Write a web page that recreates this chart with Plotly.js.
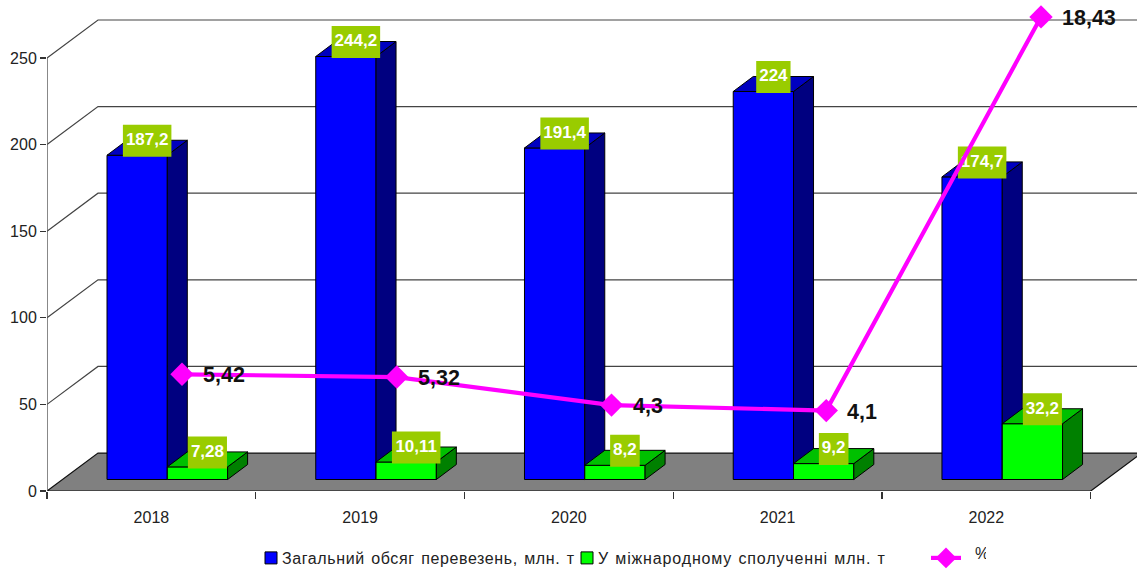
<!DOCTYPE html>
<html><head><meta charset="utf-8">
<script src="https://cdn.plot.ly/plotly-3.0.1.min.js"></script>
<style>html,body{margin:0;padding:0;background:#fff}#c{width:1137px;height:569px}
.legendtext{letter-spacing:.6px;word-spacing:1.5px;transform:translateX(-9px)}
.legend2text{letter-spacing:.85px;word-spacing:1px;transform:translateX(-9px)}
.legend3text{transform:translate(9px,-5px)}</style>
</head><body><div id="c"></div>
<script>
const years = [2018, 2019, 2020, 2021, 2022];
const totalValues = [187.2, 244.2, 191.4, 224, 174.7];
const intlValues = [7.28, 10.11, 8.2, 9.2, 32.2];
const pctValues = [5.42, 5.32, 4.3, 4.1, 18.43];
const yTicks = [0, 50, 100, 150, 200, 250];
const totalName = 'Загальний обсяг перевезень, млн. т';
const intlName = 'У міжнародному сполученні млн. т';
const pctName = '%';

// frame: pixels per unit of each axis
const W = 1137, H = 569, mL = 47, mB = 77.5;
const plotH = H - mB, plotW = W - mL;
const pxY = 1.734, pxX = 208.74;
const xRange = [2018 - 104.4 / pxX, 2018 - 104.4 / pxX + plotW / pxX];
const yRange = [0, plotH / pxY];
const pxX3 = 214.75, pxY3 = 27.5;
const x3Range = [2018 + (mL - 182) / pxX3, 2018 + (W - 182) / pxX3];
const y3Range = [(523.75 - plotH) / pxY3, 523.75 / pxY3];
const dx = p => p / pxX, dy = p => p / pxY;

// depth of the wall and of the bars
const wallX = dx(51), wallY = dy(38);
const depX = dx(20), depY = dy(15);
const barW = dx(60.3), base = dy(11.5);
const offBlue = dx(107 - 151.4), offGreen = dx(167.3 - 151.4);
const xL = xRange[0], xR = xL + dx(1043.7);

// walls and floor
const lineC = '#444';
const shapes = [];
shapes.push({type:'path', layer:'below', xref:'x', yref:'y',
  path:`M${xL},0 L${xL+wallX},${wallY} L${xR+wallX},${wallY} L${xR},0 Z`,
  fillcolor:'#808080', line:{color:'#111', width:1.2}});
yTicks.forEach(v => {
  if (v === 0) return;
  shapes.push({type:'path', layer:'below', xref:'x', yref:'y',
    path:`M${xL},${v} L${xL+wallX},${v+wallY} L${xR+wallX},${v+wallY}`,
    line:{color:lineC, width:1.2}});
});
shapes.push({type:'line', layer:'below', xref:'x', yref:'y', x0:xL, x1:xL, y0:0, y1:250, line:{color:'#555', width:1.4}});

function faces(vals, off) {
  const side = {x:[], y:[]}, top = {x:[], y:[]};
  vals.forEach((v, i) => {
    const l = years[i] + off, r = l + barW, t = base + v;
    side.x.push(r, r + depX, r + depX, r, r, null);
    side.y.push(base, base + depY, t + depY, t, base, null);
    top.x.push(l, l + depX, r + depX, r, l, null);
    top.y.push(t, t + depY, t + depY, t, t, null);
  });
  return {side, top};
}
const poly = (d, color, xa, ya) => ({type:'scatter', mode:'lines', x:d.x, y:d.y, fill:'toself', fillcolor:color,
  line:{color:'#000', width:1}, xaxis:xa, yaxis:ya, showlegend:false, hoverinfo:'skip'});

const fmt = v => String(v).replace('.', ',');
const labelBox = {x:[], y:[]}, labelText = {x:[], y:[], text:[]};
function addLabels(vals, off) {
  vals.forEach((v, i) => {
    const s = fmt(v);
    const commas = s.split(',').length - 1, digits = s.length - commas;
    const w = dx(digits * 9.45 + commas * 4.7 + 6), h = dy(32);
    const cx = years[i] + off + barW / 2 + depX / 2;
    const cy = base + v + depY / 2 + dy(7);
    labelBox.x.push(cx-w/2, cx+w/2, cx+w/2, cx-w/2, cx-w/2, null);
    labelBox.y.push(cy-h/2, cy-h/2, cy+h/2, cy+h/2, cy-h/2, null);
    labelText.x.push(cx); labelText.y.push(cy); labelText.text.push(s);
  });
}
addLabels(totalValues, offBlue);
addLabels(intlValues, offGreen);

const fBlue = faces(totalValues, offBlue), fGreen = faces(intlValues, offGreen);
const barBase = years.map(() => base);

const data = [
  poly(fBlue.side, '#000080', 'x', 'y'),
  poly(fBlue.top, '#0000C0', 'x', 'y'),
  {type:'bar', name:totalName, x:years, y:totalValues, base:barBase, width:barW, offset:offBlue,
   marker:{color:'#0000FF', line:{color:'#000', width:1}}, xaxis:'x', yaxis:'y', legend:'legend'},
  {type:'bar', name:intlName, x:years, y:intlValues, base:barBase, width:barW, offset:offGreen,
   marker:{color:'#00FF00', line:{color:'#000', width:1}}, xaxis:'x2', yaxis:'y2', legend:'legend2'},
  poly(fGreen.side, '#008000', 'x2', 'y2'),
  poly(fGreen.top, '#00C000', 'x2', 'y2'),
  {type:'scatter', mode:'lines', x:labelBox.x, y:labelBox.y, fill:'toself', fillcolor:'#99CC00',
   line:{width:0, color:'#99CC00'}, xaxis:'x2', yaxis:'y2', showlegend:false, hoverinfo:'skip'},
  {type:'scatter', mode:'text', x:labelText.x, y:labelText.y, text:labelText.text, textposition:'middle center',
   textfont:{family:'Liberation Sans', size:17, color:'#fff', weight:700}, xaxis:'x2', yaxis:'y2', showlegend:false, hoverinfo:'skip'},
  {type:'scatter', mode:'lines+markers', name:pctName, x:years, y:pctValues,
   line:{color:'#FF00FF', width:4.2}, marker:{symbol:'diamond', size:18, color:'#FF00FF'}, xaxis:'x3', yaxis:'y3', legend:'legend3'}
];

const annotations = pctValues.map((v, i) => ({xref:'x3', yref:'y3', x:years[i], y:v, text:fmt(v), showarrow:false,
  xanchor:'left', yanchor:'middle', xshift:19, yshift:-1, font:{family:'Liberation Sans', size:21.5, color:'#111', weight:700}}));

const hidden = r => ({range:r, visible:false, fixedrange:true});
const minorTicks = [years[0] - 0.5].concat(years.map(y => y + 0.5));
const legendAt = px => ({orientation:'h', xref:'container', yref:'container', x:px / W, xanchor:'left', y:1 - 541 / H, yanchor:'top',
  bgcolor:'rgba(0,0,0,0)', font:{size:16, color:'#222'}, itemclick:false, itemdoubleclick:false});
const layout = {
  width:W, height:H, margin:{l:mL, r:0, t:0, b:mB, pad:0}, autosize:false,
  paper_bgcolor:'#fff', plot_bgcolor:'rgba(0,0,0,0)', barmode:'overlay', hovermode:false,
  font:{family:'Liberation Sans', size:16, color:'#222'},
  xaxis:{range:xRange, type:'linear', tickmode:'array', tickvals:years, ticktext:years.map(String), showgrid:false, zeroline:false,
    showline:false, ticks:'outside', ticklen:12, tickcolor:'rgba(0,0,0,0)', tickfont:{size:16},
    minor:{tickmode:'array', tickvals:minorTicks, ticks:'outside', ticklen:6.5, tickcolor:'#333', tickwidth:1.2, showgrid:false}},
  yaxis:{range:yRange, tickmode:'array', tickvals:yTicks, showgrid:false, zeroline:false, showline:false,
    ticks:'outside', ticklen:6, tickcolor:'#333', tickwidth:1.2, tickfont:{size:16}},
  xaxis2:Object.assign(hidden(xRange), {overlaying:'x', anchor:'y2'}),
  yaxis2:Object.assign(hidden(yRange), {overlaying:'y', anchor:'x2'}),
  xaxis3:Object.assign(hidden(x3Range), {overlaying:'x', anchor:'y3'}),
  yaxis3:Object.assign(hidden(y3Range), {overlaying:'y', anchor:'x3'}),
  shapes, annotations,
  legend:legendAt(251), legend2:legendAt(567), legend3:legendAt(926)
};
Plotly.newPlot('c', data, layout, {displayModeBar:false, staticPlot:true});
</script></body></html>
